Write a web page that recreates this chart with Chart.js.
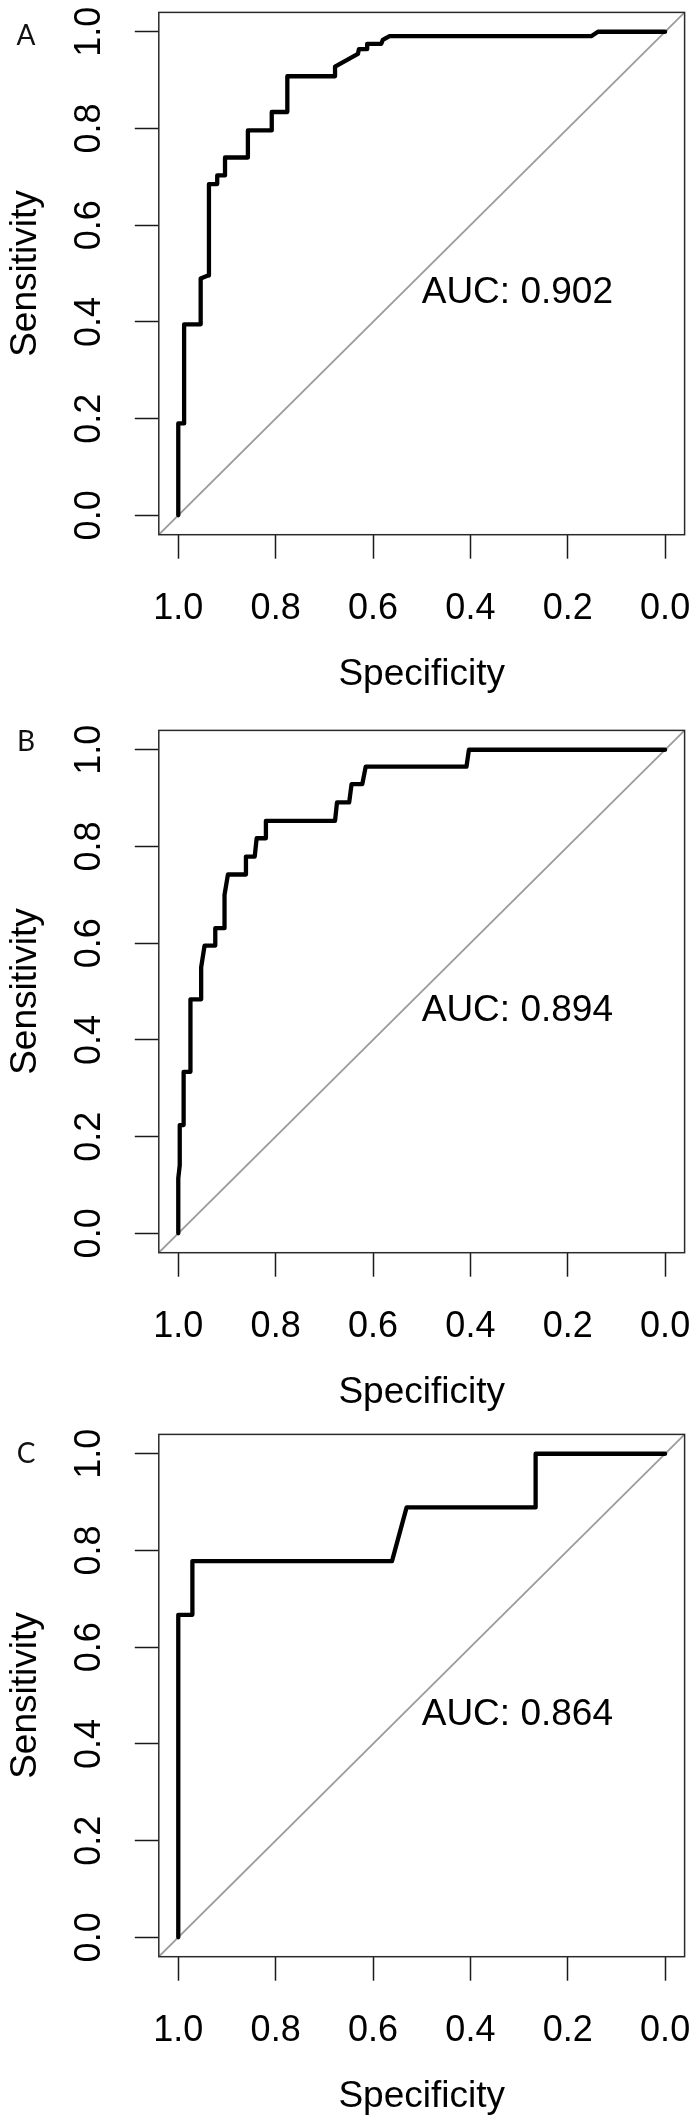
<!DOCTYPE html>
<html><head><meta charset="utf-8">
<script src="https://cdn.jsdelivr.net/npm/chart.js@4.4.0/dist/chart.umd.min.js"></script>
<style>
html,body{margin:0;padding:0;background:#fff;}
body{width:698px;height:2123px;position:relative;overflow:hidden;}
canvas{position:absolute;left:0;}
</style></head><body>
<canvas id="cA" width="698" height="701" style="top:0px"></canvas>
<canvas id="cB" width="698" height="701" style="top:718px"></canvas>
<canvas id="cC" width="698" height="701" style="top:1422px"></canvas>
<script>
// ---- data ----
const panelLetters = ['A', 'B', 'C'];
const aucLabels = ['AUC: 0.902', 'AUC: 0.894', 'AUC: 0.864'];
const tickValues = [0, 0.2, 0.4, 0.6, 0.8, 1.0];
const xTitle = 'Specificity';
const yTitle = 'Sensitivity';

const specA = [1, 1, 0.988, 0.988, 0.954, 0.954, 0.939, 0.937, 0.937, 0.920, 0.920, 0.904, 0.904, 0.857, 0.857, 0.808, 0.808, 0.776, 0.776, 0.678, 0.678, 0.631, 0.629, 0.612, 0.612, 0.583, 0.580, 0.566, 0.151, 0.138, 0];
const sensA = [0, 0.190, 0.190, 0.395, 0.395, 0.490, 0.496, 0.496, 0.685, 0.685, 0.703, 0.703, 0.740, 0.740, 0.796, 0.796, 0.834, 0.834, 0.908, 0.908, 0.928, 0.954, 0.964, 0.964, 0.975, 0.975, 0.983, 0.991, 0.991, 1.0, 1.0];

const specB = [1, 1, 0.997, 0.997, 0.989, 0.989, 0.975, 0.975, 0.953, 0.953, 0.946, 0.924, 0.924, 0.905, 0.905, 0.898, 0.861, 0.861, 0.843, 0.839, 0.820, 0.820, 0.678, 0.674, 0.649, 0.644, 0.622, 0.615, 0.408, 0.403, 0];
const sensB = [0, 0.114, 0.141, 0.224, 0.224, 0.334, 0.334, 0.484, 0.484, 0.550, 0.595, 0.595, 0.631, 0.631, 0.700, 0.742, 0.742, 0.779, 0.779, 0.817, 0.817, 0.853, 0.853, 0.891, 0.891, 0.929, 0.929, 0.965, 0.965, 1.0, 1.0];

const specC = [1, 1, 0.971, 0.971, 0.561, 0.531, 0.266, 0.266, 0];
const sensC = [0, 0.667, 0.667, 0.778, 0.778, 0.889, 0.889, 1.0, 1.0];

// chance diagonal (corner to corner of the extended plot range)
const refSpec = [1.04, -0.04];
const refSens = [-0.04, 1.04];

const aucPos = {x: 0.5, y: 0.5};

// ---- layout / style ----
const FONT = '"Liberation Sans", Arial, Helvetica, sans-serif';
const CANVAS_H = 701;
const AREA_TOP = 12.4, AREA_BOTTOM = 534.7, AREA_LEFT = 158.8, AREA_RIGHT = 684.6;
const letterY = [35.5, 23.5, 31.5];

Chart.defaults.font.family = FONT;
Chart.defaults.color = '#000';

function pts(xs, ys) { return xs.map((x, i) => ({x: x, y: ys[i]})); }

const framePlugin = {
  id: 'frame',
  afterDatasetsDraw(chart, args, opts) {
    const {ctx, chartArea: a, scales} = chart;
    ctx.save();
    ctx.strokeStyle = '#2a2a2a';
    ctx.lineWidth = 1.5;
    ctx.strokeRect(a.left, a.top, a.right - a.left, a.bottom - a.top);
    // AUC text
    ctx.fillStyle = '#000';
    ctx.font = '37px ' + FONT;
    ctx.textAlign = 'left';
    ctx.textBaseline = 'alphabetic';
    const px = scales.x.getPixelForValue(aucPos.x);
    const py = scales.y.getPixelForValue(aucPos.y);
    ctx.fillText(opts.auc, px, py + 29.5);
    // panel letter
    ctx.font = '28px Lato, "Open Sans", sans-serif';
    ctx.textAlign = 'center';
    ctx.textBaseline = 'middle';
    ctx.fillStyle = '#111';
    ctx.fillText(opts.letter, 26, opts.letterY);
    ctx.restore();
  }
};

function zeroPad(s) { s.paddingTop = 0; s.paddingBottom = 0; s.paddingLeft = 0; s.paddingRight = 0; }

function makeChart(id, spec, sens, idx) {
  new Chart(document.getElementById(id), {
    type: 'scatter',
    data: {
      datasets: [
        {data: pts(spec, sens), showLine: true, borderColor: '#000', borderWidth: 4.3,
         pointRadius: 0, borderJoinStyle: 'round', borderCapStyle: 'round', tension: 0, fill: false},
        {data: pts(refSpec, refSens), showLine: true, borderColor: '#9c9c9c', borderWidth: 1.8,
         pointRadius: 0, tension: 0, fill: false}
      ]
    },
    options: {
      responsive: false,
      animation: false,
      devicePixelRatio: 1,
      events: [],
      layout: {padding: {left: 0, top: AREA_TOP, right: 698 - AREA_RIGHT, bottom: 0}},
      plugins: {
        legend: {display: false},
        tooltip: {enabled: false},
        frame: {auc: aucLabels[idx], letter: panelLetters[idx], letterY: letterY[idx]}
      },
      scales: {
        x: {
          type: 'linear', position: 'bottom', reverse: true, min: -0.04, max: 1.04,
          afterBuildTicks: s => { s.ticks = tickValues.map(v => ({value: v})); },
          afterFit: s => { s.height = CANVAS_H - AREA_BOTTOM; zeroPad(s); },
          border: {display: false},
          grid: {display: true, drawOnChartArea: false, drawTicks: true, tickLength: 24,
                 tickColor: '#1a1a1a', tickWidth: 1.5, color: '#1a1a1a'},
          ticks: {autoSkip: false, maxRotation: 0, minRotation: 0, padding: 29,
                  font: {size: 36, family: FONT}, color: '#000',
                  callback: v => Number(v).toFixed(1)},
          title: {display: true, text: xTitle, font: {size: 37, family: FONT}, color: '#000',
                  padding: {top: 0, bottom: 4}}
        },
        y: {
          type: 'linear', position: 'left', min: -0.04, max: 1.04,
          afterBuildTicks: s => { s.ticks = tickValues.map(v => ({value: v})); },
          afterFit: s => { s.width = AREA_LEFT; zeroPad(s); },
          border: {display: false},
          grid: {display: true, drawOnChartArea: false, drawTicks: true, tickLength: 24,
                 tickColor: '#1a1a1a', tickWidth: 1.5, color: '#1a1a1a'},
          ticks: {autoSkip: false, minRotation: 90, maxRotation: 90, crossAlign: 'center', padding: 19.8,
                  font: {size: 36, family: FONT}, color: '#000',
                  callback: v => Number(v).toFixed(1)},
          title: {display: true, text: yTitle, font: {size: 37, family: FONT}, color: '#000',
                  padding: {top: 4, bottom: 0}}
        }
      }
    },
    plugins: [framePlugin]
  });
}

makeChart('cA', specA, sensA, 0);
makeChart('cB', specB, sensB, 1);
makeChart('cC', specC, sensC, 2);
</script>
</body></html>
